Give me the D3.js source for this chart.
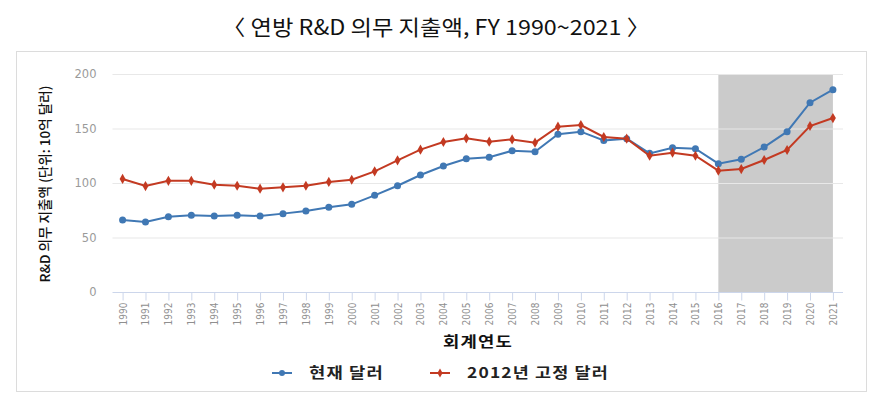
<!DOCTYPE html>
<html>
<head>
<meta charset="utf-8">
<script src="https://cdn.jsdelivr.net/npm/d3@7"></script>
<style>
  body { margin: 0; background: #fff; }
  svg { display: block; }
</style>
</head>
<body>
<svg id="chart"></svg>
<script>
// data
const years = d3.range(1990, 2022).map(String);
const nominal = [66, 64.2, 69, 70.3, 69.7, 70.3, 69.7, 71.9, 74.3, 77.7, 80.4, 88.7, 97.5, 107.3, 115.6, 122.3,
  123.6, 129.6, 128.7, 144.7, 147.1, 139.1, 140.7, 127.2, 132.4, 131.5, 117.7, 121.7, 133, 147.1, 173.7, 185.6];
const constant2012 = [103.7, 97.2, 102, 102, 98.5, 97.5, 94.8, 96, 97.5, 101, 103, 110.7, 120.8, 130.6, 137.6, 141,
  137.9, 140, 137, 151.7, 153.2, 142.2, 140.7, 125, 127.8, 125, 111.3, 112.8, 121.1, 130.3, 152.3, 159.6];
const yTicks = [0, 50, 100, 150, 200];
const shadeFrom = "2016", shadeTo = "2021";

const seriesList = [
  { name: "현재 달러", values: nominal, color: "#4078b4", shape: "circle" },
  { name: "2012년 고정 달러", values: constant2012, color: "#c33a22", shape: "diamond" }
];

const W = 873, H = 396;
const svg = d3.select("#chart").attr("width", W).attr("height", H)
  .style("font-family", "'Noto Sans CJK KR', 'Noto Sans', sans-serif");

// title
svg.append("text")
  .attr("x", 436).attr("y", 35)
  .attr("text-anchor", "middle")
  .attr("font-size", 21)
  .attr("textLength", 428).attr("lengthAdjust", "spacingAndGlyphs")
  .attr("fill", "#111")
  .text("〈 연방 R&D 의무 지출액, FY 1990~2021 〉");

// outer frame
svg.append("rect")
  .attr("x", 16.5).attr("y", 51.5).attr("width", 850).attr("height", 340)
  .attr("fill", "none").attr("stroke", "#dcdcdc");

const plotL = 112.5, plotR = 843, plotT = 74, plotB = 292;

const x = d3.scalePoint().domain(years).range([plotL, plotR]).padding(0.44);
const y = d3.scaleLinear().domain([0, 200]).range([plotB, plotT]);

// shaded projection band
svg.append("rect")
  .attr("x", x(shadeFrom)).attr("y", plotT)
  .attr("width", x(shadeTo) - x(shadeFrom)).attr("height", plotB - plotT)
  .attr("fill", "#cbcbcb");

// horizontal grid
svg.append("g").selectAll("line")
  .data(yTicks.filter(d => d > 0))
  .join("line")
  .attr("x1", plotL).attr("x2", plotR)
  .attr("y1", d => y(d) + 0.5).attr("y2", d => y(d) + 0.5)
  .attr("stroke", "#e8e8e8").attr("stroke-width", 1.2);

// y axis labels
const yAxis = svg.append("g")
  .attr("transform", `translate(${plotL - 16},0)`)
  .call(d3.axisLeft(y).tickValues(yTicks).tickSize(0).tickPadding(0));
yAxis.select(".domain").remove();
yAxis.selectAll("text")
  .attr("fill", "#9a9a9a").attr("font-size", 11.5)
  .style("font-family", "'DejaVu Sans', sans-serif");

// x axis
const xAxis = svg.append("g")
  .attr("transform", `translate(0,${plotB + 0.5})`)
  .call(d3.axisBottom(x).tickSize(8).tickSizeOuter(0));
xAxis.select(".domain").attr("d", `M${plotL},0H${plotR}`).attr("stroke", "#ccd6eb");
xAxis.selectAll(".tick line").attr("stroke", "#ccd6eb");
xAxis.selectAll(".tick text")
  .attr("fill", "#8f8f8f").attr("font-size", 10)
  .style("font-family", "'Liberation Sans Narrow', 'DejaVu Sans Condensed', sans-serif")
  .attr("transform", "rotate(-90)")
  .attr("text-anchor", "end")
  .attr("x", -10).attr("y", 0).attr("dy", "0.35em");

// axis titles
svg.append("text")
  .attr("transform", "translate(50,184) rotate(-90)")
  .attr("text-anchor", "middle")
  .attr("font-size", 13.5).attr("font-weight", 500)
  .attr("textLength", 197).attr("lengthAdjust", "spacingAndGlyphs")
  .attr("fill", "#111")
  .text("R&D 의무 지출액 (단위: 10억 달러)");

svg.append("text")
  .attr("x", 478).attr("y", 347)
  .attr("text-anchor", "middle")
  .attr("font-size", 15).attr("font-weight", 700)
  .attr("letter-spacing", 1)
  .attr("textLength", 70).attr("lengthAdjust", "spacingAndGlyphs")
  .attr("fill", "#111")
  .text("회계연도");

// lines and markers
const line = d3.line().x((d, i) => x(years[i])).y(d => y(d));
const diamond = d3.symbol().type(d3.symbolDiamond).size(30);

seriesList.forEach(s => {
  svg.append("path")
    .datum(s.values)
    .attr("fill", "none")
    .attr("stroke", s.color)
    .attr("stroke-width", 2)
    .attr("d", line);
  const g = svg.append("g");
  if (s.shape === "circle") {
    g.selectAll("circle").data(s.values).join("circle")
      .attr("cx", (d, i) => x(years[i])).attr("cy", d => y(d))
      .attr("r", 3.5).attr("fill", s.color);
  } else {
    g.selectAll("path").data(s.values).join("path")
      .attr("transform", (d, i) => `translate(${x(years[i])},${y(d)})`)
      .attr("d", diamond).attr("fill", s.color);
  }
});

// legend
const legendX = [272, 430];
const legendLen = [75, 142];
seriesList.forEach((s, k) => {
  const g = svg.append("g").attr("transform", `translate(${legendX[k]},373)`);
  g.append("line").attr("x1", 0).attr("x2", 20)
    .attr("stroke", s.color).attr("stroke-width", 2);
  if (s.shape === "circle") {
    g.append("circle").attr("cx", 10).attr("r", 3).attr("fill", s.color);
  } else {
    g.append("path").attr("transform", "translate(10,0)")
      .attr("d", d3.symbol().type(d3.symbolDiamond).size(24)).attr("fill", s.color);
  }
  g.append("text")
    .attr("x", 37).attr("dy", "0.36em")
    .attr("font-size", 15).attr("font-weight", 700)
    .attr("letter-spacing", 1)
    .attr("textLength", legendLen[k]).attr("lengthAdjust", "spacingAndGlyphs")
    .attr("fill", "#222")
    .text(s.name);
});
</script>
</body>
</html>
